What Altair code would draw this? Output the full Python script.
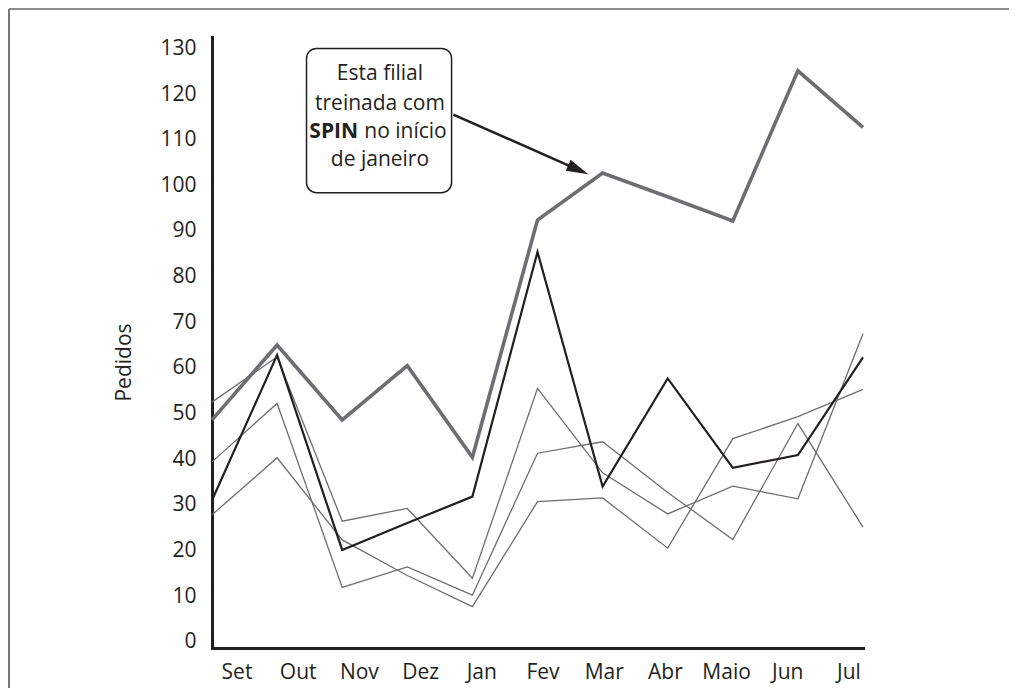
import altair as alt
import pandas as pd

# ---- data ----
months = ["Set", "Out", "Nov", "Dez", "Jan", "Fev", "Mar", "Abr", "Maio", "Jun", "Jul"]
spin = [48.6, 65.0, 48.6, 60.5, 40.4, 92.4, 102.7, 97.5, 92.2, 125.1, 112.7]
black = [31.0, 62.8, 20.1, 26.0, 31.8, 85.4, 34.0, 57.7, 38.1, 40.9, 62.3]
thin_a = [52.5, 62.4, 26.4, 29.2, 13.9, 55.5, 37.0, 28.0, 34.1, 31.3, 67.5]
thin_b = [39.4, 52.2, 11.9, 16.4, 10.2, 41.3, 43.8, 32.7, 22.4, 47.8, 25.1]
thin_c = [27.8, 40.3, 22.3, 14.5, 7.7, 30.7, 31.5, 20.5, 44.5, 49.3, 55.3]
y_ticks = list(range(0, 131, 10))

# annotation (in data units: x = month index, y = pedidos)
note_lines = ["Esta filial", "treinada com", "de janeiro"]
note_line_y = [124.5, 117.9, 105.5]
note_center_x = 2.58
note_bold = "SPIN"
note_rest = "no início"
note_mid_y = 111.7
note_bold_x = 2.245
note_rest_x = 2.339
box_x = [1.452, 3.680]
box_y = [98.4, 130.0]
arrow_start = [3.707, 115.5]
arrow_shaft_end = [5.611, 103.5]
arrow_tip = [5.78, 102.45]

INK = "#231f20"
GREY = "#6d6e71"
FONT = "Open Sans"
W, H = 651, 611

idx = list(range(len(months)))


def long(name, vals):
    return pd.DataFrame({"i": idx, "v": vals, "s": name})


thin_df = pd.concat([long("a", thin_a), long("b", thin_b), long("c", thin_c)])
black_df = long("black", black)
spin_df = long("spin", spin)
month_df = pd.DataFrame({"i": idx, "m": months})

xs = alt.Scale(domain=[0, 10], nice=False, zero=False)
ys = alt.Scale(domain=[-1.38, 132.5], nice=False, zero=False)

x_axis = alt.Axis(labels=False, ticks=False, grid=False, title=None, domain=True,
                  domainColor=INK, domainWidth=3, domainCap="square")
y_axis = alt.Axis(values=y_ticks, ticks=False, grid=False, domain=True,
                  domainColor=INK, domainWidth=3, domainCap="square",
                  labelFont=FONT, labelFontSize=21, labelColor=INK, labelPadding=16,
                  title="Pedidos", titleFont=FONT, titleFontSize=21, titleFontWeight="normal",
                  titleColor=INK, titleAngle=270, titleAlign="center", titleBaseline="middle",
                  titleX=-88, titleY=325)


def Y(field):
    # every layer carries the identical y axis so the shared axis merges cleanly
    return alt.Y(field, scale=ys, axis=y_axis, title="Pedidos")


thin = alt.Chart(thin_df).mark_line(color=GREY, strokeWidth=1.3).encode(
    x=alt.X("i:Q", scale=xs, axis=x_axis),
    y=Y("v:Q"),
    detail="s:N",
)
black_line = alt.Chart(black_df).mark_line(color=INK, strokeWidth=2.2).encode(
    x=alt.X("i:Q", scale=xs, axis=None),
    y=Y("v:Q"),
)
spin_line = alt.Chart(spin_df).mark_line(color=GREY, strokeWidth=3.6).encode(
    x=alt.X("i:Q", scale=xs, axis=None),
    y=Y("v:Q"),
)

# month labels (spaced slightly differently from the data points, as in the reference)
month_labels = alt.Chart(month_df).mark_text(
    font=FONT, fontSize=21, color=INK, baseline="middle", align="center"
).encode(
    x=alt.X("i:Q", scale=alt.Scale(domain=[-0.4085, 10.229], nice=False, zero=False), axis=None),
    y=alt.value(H + 25),
    text="m:N",
)

# callout box
box_df = pd.DataFrame({"x1": [box_x[0]], "x2": [box_x[1]], "y1": [box_y[0]], "y2": [box_y[1]]})
box = alt.Chart(box_df).mark_rect(fill="white", stroke=INK, strokeWidth=1.5, cornerRadius=10).encode(
    x=alt.X("x1:Q", scale=xs, axis=None), x2="x2:Q",
    y=Y("y1:Q"), y2="y2:Q",
)

center_df = pd.DataFrame({"x": [note_center_x] * 3, "y": note_line_y, "t": note_lines})
center_txt = alt.Chart(center_df).mark_text(
    font=FONT, fontSize=21, color=INK, align="center", baseline="middle"
).encode(
    x=alt.X("x:Q", scale=xs, axis=None), y=Y("y:Q"), text="t:N"
)
bold_df = pd.DataFrame({"x": [note_bold_x], "y": [note_mid_y], "t": [note_bold]})
bold_txt = alt.Chart(bold_df).mark_text(
    font=FONT, fontSize=21, fontWeight="bold", color=INK, align="right", baseline="middle"
).encode(
    x=alt.X("x:Q", scale=xs, axis=None), y=Y("y:Q"), text="t:N"
)
rest_df = pd.DataFrame({"x": [note_rest_x], "y": [note_mid_y], "t": [note_rest]})
rest_txt = alt.Chart(rest_df).mark_text(
    font=FONT, fontSize=21, color=INK, align="left", baseline="middle"
).encode(
    x=alt.X("x:Q", scale=xs, axis=None), y=Y("y:Q"), text="t:N"
)

shaft_df = pd.DataFrame({"x": [arrow_start[0]], "y": [arrow_start[1]],
                         "x2": [arrow_shaft_end[0]], "y2": [arrow_shaft_end[1]]})
shaft = alt.Chart(shaft_df).mark_rule(color=INK, strokeWidth=2.5).encode(
    x=alt.X("x:Q", scale=xs, axis=None), x2="x2:Q",
    y=Y("y:Q"), y2="y2:Q",
)
head_df = pd.DataFrame({"x": [arrow_tip[0]], "y": [arrow_tip[1]]})
head = alt.Chart(head_df).mark_point(
    shape="M0,0 L0.55,2 L-0.55,2 Z", filled=True, fill=INK, stroke=INK, strokeWidth=0,
    opacity=1, size=484, angle=114
).encode(
    x=alt.X("x:Q", scale=xs, axis=None), y=Y("y:Q")
)

# frame lines (top and left) of the figure
one = pd.DataFrame({"k": [0]})
frame_top = alt.Chart(one).mark_rule(color="#666666", strokeWidth=1.6).encode(
    x=alt.value(-203), x2=alt.value(797), y=alt.value(-28)
)
frame_left = alt.Chart(one).mark_rule(color="#555555", strokeWidth=1.6).encode(
    x=alt.value(-203), y=alt.value(-28), y2=alt.value(H + 50)
)

chart = alt.layer(
    frame_top, frame_left, thin, black_line, spin_line, month_labels,
    shaft, head, box, center_txt, bold_txt, rest_txt,
).resolve_scale(x="independent").properties(
    width=W, height=H,
    autosize=alt.AutoSizeParams(type="none"),
    padding={"left": 204, "top": 29, "right": 146, "bottom": 40},
).configure_view(stroke=None)

chart.save("out.html", embed_options={"renderer": "svg", "actions": False})
